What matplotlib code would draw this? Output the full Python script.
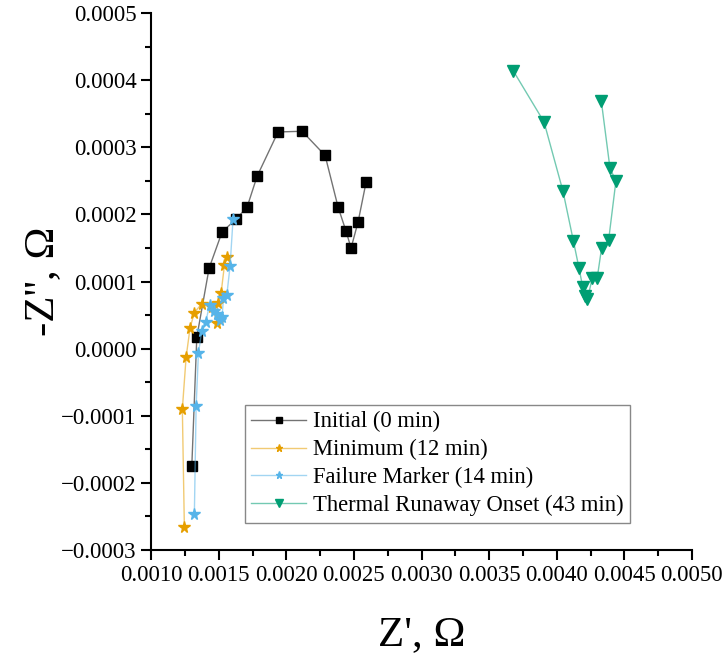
import matplotlib
matplotlib.use("Agg")
import matplotlib.pyplot as plt
from matplotlib.ticker import MultipleLocator, AutoMinorLocator, FuncFormatter

# Nyquist data (Z', -Z'' in ohm)
initial_x = [0.001301, 0.001338, 0.001429, 0.001525, 0.001628, 0.001710, 0.001784, 0.001939,
             0.002117, 0.002287, 0.002383, 0.002442, 0.002479, 0.002531, 0.002590]
initial_y = [-0.000175, 0.0000172, 0.000120, 0.000174, 0.000193, 0.000211, 0.000257, 0.000323,
             0.000324, 0.000288, 0.000211, 0.000175, 0.000150, 0.000189, 0.000248]

minimum_x = [0.001246, 0.001231, 0.001259, 0.001288, 0.001320, 0.001375, 0.001451, 0.001490,
             0.001493, 0.001518, 0.001542, 0.001560]
minimum_y = [-0.000266, -0.0000900, -0.0000125, 0.0000307, 0.0000538, 0.0000672, 0.0000620,
             0.0000386, 0.0000687, 0.0000833, 0.000124, 0.000137]

failure_x = [0.001320, 0.001333, 0.001350, 0.001375, 0.001404, 0.001433, 0.001468, 0.001486,
             0.001510, 0.001525, 0.001535, 0.001560, 0.001584, 0.001606]
failure_y = [-0.000246, -0.0000855, -0.0000070, 0.0000270, 0.0000401, 0.0000657, 0.0000565,
             0.0000516, 0.0000426, 0.0000478, 0.0000750, 0.0000799, 0.000123, 0.000193]

runaway_x = [0.003679, 0.003906, 0.004046, 0.004124, 0.004165, 0.004192, 0.004209, 0.004227,
             0.004263, 0.004300, 0.004332, 0.004384, 0.004438, 0.004394, 0.004330]
runaway_y = [0.000414, 0.000338, 0.000235, 0.000160, 0.000120, 0.0000922, 0.0000784, 0.0000739,
             0.000105, 0.000106, 0.000150, 0.000162, 0.000250, 0.000269, 0.000369]

labels = ["Initial (0 min)", "Minimum (12 min)", "Failure Marker (14 min)",
          "Thermal Runaway Onset (43 min)"]

plt.rcParams["font.family"] = ["Liberation Serif", "DejaVu Serif"]

fig = plt.figure(figsize=(7.23, 6.59), dpi=100)
ax = fig.add_axes([0.209, 0.1654, 0.748, 0.8146])

series = [
    (initial_x, initial_y, "black", "s", 6.5),
    (minimum_x, minimum_y, "#E69F00", "*", 8.5),
    (failure_x, failure_y, "#56B4E9", "*", 8.5),
    (runaway_x, runaway_y, "#009E73", "v", 8.5),
]
for (xs, ys, c, m, ms), lab in zip(series, labels):
    line_col = matplotlib.colors.to_rgba(c, 0.55)
    ax.plot(xs, ys, color=line_col, lw=1.0, marker=m, ms=ms,
            markerfacecolor=c, markeredgecolor=c, label=lab)

ax.set_xlim(0.001, 0.005)
ax.set_ylim(-0.0003, 0.0005)

ax.spines["top"].set_visible(False)
ax.spines["right"].set_visible(False)
ax.spines["left"].set_linewidth(1.5)
ax.spines["bottom"].set_linewidth(1.5)

ax.xaxis.set_major_locator(MultipleLocator(0.0005))
ax.yaxis.set_major_locator(MultipleLocator(0.0001))
ax.xaxis.set_minor_locator(AutoMinorLocator(2))
ax.yaxis.set_minor_locator(AutoMinorLocator(2))


def fmt(v, pos):
    if abs(v) < 1e-10:
        v = 0.0
    return f"{v:.4f}".replace("-", "\u2212")


ax.xaxis.set_major_formatter(FuncFormatter(fmt))
ax.yaxis.set_major_formatter(FuncFormatter(fmt))
ax.tick_params(which="major", direction="out", length=7, width=1.5, labelsize=16.5)
ax.tick_params(which="minor", direction="out", length=4, width=1.5)

ax.set_xlabel("Z', \u03a9", fontsize=31)
ax.set_ylabel("-Z'', \u03a9", fontsize=31)
ax.xaxis.set_label_coords(0.5, -0.122)
ax.yaxis.set_label_coords(-0.165, 0.5)

leg = ax.legend(loc="lower left", bbox_to_anchor=(0.173, 0.05), fontsize=16.3,
                fancybox=False, edgecolor="#888888", framealpha=1, markerscale=0.6,
                handlelength=2.4, borderpad=0.3, labelspacing=0.3, handletextpad=0.3,
                borderaxespad=0)
leg.get_frame().set_linewidth(1.0)

fig.savefig("out.png", dpi=100)
